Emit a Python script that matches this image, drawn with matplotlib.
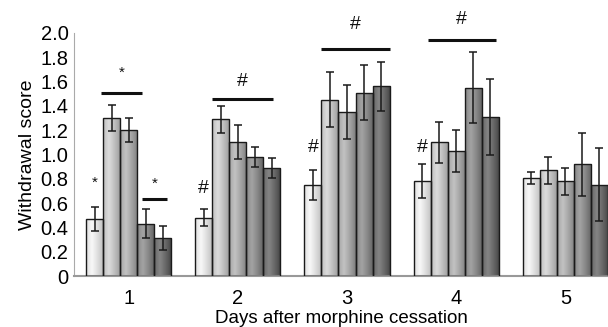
import numpy as np
import matplotlib
matplotlib.use("Agg")
import matplotlib.pyplot as plt

plt.rcParams['font.family'] = ['Liberation Sans', 'DejaVu Sans']

days = [1, 2, 3, 4, 5]
day_labels = ['1', '2', '3', '4', '5']
means = [
    [0.47, 0.48, 0.75, 0.78, 0.81],
    [1.30, 1.29, 1.45, 1.10, 0.87],
    [1.20, 1.10, 1.35, 1.03, 0.78],
    [0.43, 0.98, 1.51, 1.55, 0.92],
    [0.31, 0.89, 1.56, 1.31, 0.75],
]
errs = [
    [0.10, 0.07, 0.125, 0.14, 0.05],
    [0.11, 0.11, 0.225, 0.17, 0.11],
    [0.10, 0.14, 0.22, 0.17, 0.11],
    [0.12, 0.08, 0.23, 0.29, 0.26],
    [0.10, 0.08, 0.20, 0.31, 0.30],
]
# significance annotations: (day, start_bar, end_bar, y_line, symbol, y_text)
sig_lines = [
    (1, 0.38, 2.79, 1.51, '*', 1.67),
    (1, 2.79, 4.25, 0.63, '*', 0.76),
    (2, 0.46, 4.05, 1.46, '#', 1.60),
    (3, 0.48, 4.50, 1.87, '#', 2.07),
    (4, 0.32, 4.32, 1.94, '#', 2.11),
]
single_marks = [
    (1, 0, '*', 0.77),
    (2, 0, '#', 0.72),
    (3, 0, '#', 1.06),
    (4, 0, '#', 1.06),
]

peak = [0.97, 0.86, 0.76, 0.64, 0.52]
edge = [0.72, 0.58, 0.48, 0.36, 0.24]

fig = plt.figure(figsize=(6.08, 3.27), dpi=100)
ax = fig.add_axes([74/608, 51/327, 1 - 74/608, (276-33)/327])

w = 0.156
n = len(means)
t = np.linspace(0, 1, 64)
prof = np.clip(1 - np.abs(t - 0.33) / 0.67, 0, 1) ** 0.8

for i in range(n):
    xs = np.array(days) + (i - (n - 1) / 2) * w
    bars = ax.bar(xs, means[i], width=w, facecolor='none', edgecolor='#1a1a1a',
                  linewidth=1.0, zorder=3)
    g = edge[i] + (peak[i] - edge[i]) * prof
    img = np.tile(g, (2, 1))
    for b in bars:
        x0, y0 = b.get_x(), b.get_y()
        im = ax.imshow(img, cmap='gray', vmin=0, vmax=1, aspect='auto',
                       extent=[x0, x0 + b.get_width(), y0, y0 + b.get_height()],
                       zorder=2, interpolation='bilinear')
        im.set_clip_path(b)
    ax.errorbar(xs, means[i], yerr=errs[i], fmt='none', ecolor='#1a1a1a',
                elinewidth=1.1, capsize=3, capthick=1.1, zorder=4)

for day, b0, b1, yl, sym, yt in sig_lines:
    x0 = day + (b0 - (n - 1) / 2) * w
    x1 = day + (b1 - (n - 1) / 2) * w
    ax.plot([x0, x1], [yl, yl], color='#111111', lw=2.2,
            solid_capstyle='butt', clip_on=False, zorder=5)
    fs = 11 if sym == '*' else 14
    ax.text((x0 + x1) / 2, yt, sym, ha='center', va='center', fontsize=fs,
            clip_on=False, color='#111111')

for day, b, sym, yt in single_marks:
    x = day + (b - (n - 1) / 2) * w
    fs = 11 if sym == '*' else 14
    ax.text(x, yt, sym, ha='center', va='center', fontsize=fs, color='#111111')

ax.set_xlim(0.5, 5.39)
ax.set_ylim(0, 2.0)
ax.set_yticks(np.arange(0, 2.01, 0.2))
ax.set_yticklabels(['0'] + [f'{v:.1f}' for v in np.arange(0.2, 2.01, 0.2)])
ax.set_xticks(days)
ax.set_xticklabels(day_labels)
ax.tick_params(axis='both', length=0, labelsize=14.5, pad=4)
ax.tick_params(axis='x', pad=9)
for s in ['top', 'right']:
    ax.spines[s].set_visible(False)
ax.spines['left'].set_color('#aaaaaa')
ax.spines['bottom'].set_color('#999999')
ax.spines['bottom'].set_linewidth(1.5)
ax.set_ylabel('Withdrawal score', fontsize=14, labelpad=3)
ax.set_xlabel('Days after morphine cessation', fontsize=13.5, labelpad=2)

fig.savefig('out.png', dpi=100)
